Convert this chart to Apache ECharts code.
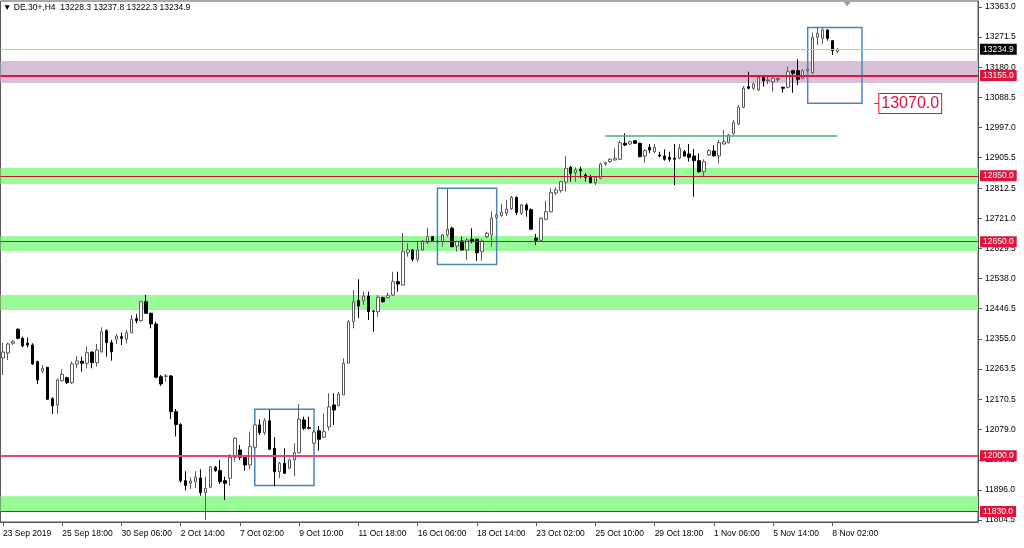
<!DOCTYPE html>
<html><head><meta charset="utf-8">
<script src="https://cdn.jsdelivr.net/npm/echarts@6/dist/echarts.min.js"></script>
<style>html,body{margin:0;padding:0;background:#fff}#c{width:1024px;height:548px}</style>
</head><body><div id="c"></div>
<script>
// ---------- data ----------
const tradingDays = ['23 Sep','24 Sep','25 Sep','26 Sep','27 Sep','30 Sep','1 Oct','2 Oct','3 Oct','4 Oct',
  '7 Oct','8 Oct','9 Oct','10 Oct','11 Oct','14 Oct','15 Oct','16 Oct','17 Oct','18 Oct',
  '21 Oct','22 Oct','23 Oct','24 Oct','25 Oct','28 Oct','29 Oct','30 Oct','31 Oct','1 Nov',
  '4 Nov','5 Nov','6 Nov','7 Nov','8 Nov'];
const barHours = ['02:00','06:00','10:00','14:00','18:00'];
const firstBarHourIndex = 2;
const emptySlotsRight = 28;

const opens = [12296.7,12311.9,12341.4,12383.9,12356.5,12341.4,12336.2,12285.5,12257.2,12268.4,
12173.1,12153.9,12227.7,12236.8,12221.6,12278.5,12286.7,12280.6,12314.9,12282.4,
12315.8,12379.6,12343.2,12353.5,12361.4,12353.5,12373.6,12416.1,12410.0,12467.7,
12432.5,12400.0,12239.9,12241.0,12242.0,12133.6,12094.7,11923.9,11916.1,11920.9,
11932.1,11887.5,11903.9,11964.6,11954.3,11923.9,11931.2,11995.0,12017.2,11995.0,
11971.6,12025.3,12093.2,12069.8,12106.2,12022.4,11951.3,11976.7,11961.6,11986.8,
12009.0,12108.3,12085.0,12037.6,12075.8,12055.8,12087.1,12153.9,12151.8,12184.3,
12280.6,12407.0,12470.8,12469.9,12485.1,12439.4,12437.3,12479.9,12479.9,12488.1,
12528.5,12518.5,12616.6,12624.8,12596.6,12624.8,12647.0,12665.2,12650.6,12650.0,
12670.4,12690.7,12636.9,12652.1,12624.8,12657.3,12657.3,12619.6,12665.2,12670.4,
12724.2,12729.6,12736.3,12750.0,12784.3,12736.3,12761.5,12747.2,12660.3,12654.3,
12718.1,12741.2,12798.0,12805.0,12831.4,12876.0,12859.6,12870.0,12852.7,12847.5,
12829.3,12842.6,12886.1,12893.1,12898.2,12900.3,12949.0,12946.8,12956.9,12949.0,
12910.4,12936.8,12923.4,12913.4,12910.4,12906.4,12903.4,12903.4,12923.4,12916.7,
12910.4,12896.1,12862.7,12913.4,12925.6,12910.4,12946.8,12950.8,12979.3,13007.6,
13058.3,13120.9,13116.0,13110.9,13149.5,13139.1,13136.1,13143.4,13119.1,13119.1,
13169.5,13169.5,13146.4,13169.5,13163.4,13271.0,13268.0,13293.2,13260.6,13228.3];
const highs = [12342.3,12343.2,12351.4,12386.9,12361.4,12358.9,12341.4,12288.5,12275.4,12269.3,
12177.3,12235.0,12262.4,12239.9,12285.5,12302.8,12300.7,12331.1,12315.8,12339.2,
12389.9,12383.9,12351.4,12369.6,12373.6,12381.8,12427.3,12430.4,12470.8,12488.1,
12434.3,12407.0,12245.1,12248.1,12245.1,12141.8,12098.3,11952.8,11933.6,11952.8,
11958.5,11936.1,11968.6,11968.6,11986.8,11936.1,12005.0,12055.8,12032.4,11998.9,
12072.8,12096.2,12110.5,12113.5,12138.7,12055.8,11981.6,12022.4,11992.0,12037.6,
12157.0,12118.4,12118.4,12078.0,12090.1,12128.7,12189.5,12189.5,12193.4,12295.8,
12412.1,12503.3,12535.8,12498.1,12498.1,12442.5,12488.1,12483.0,12495.1,12558.9,
12558.9,12676.4,12645.2,12627.9,12650.0,12655.2,12692.5,12667.3,12653.7,12673.4,
12812.2,12695.6,12653.1,12665.2,12660.3,12690.7,12660.3,12657.3,12680.4,12741.2,
12736.3,12764.5,12776.7,12788.8,12787.9,12764.5,12766.6,12751.5,12673.4,12724.2,
12773.7,12812.2,12815.3,12835.3,12910.4,12880.0,12876.0,12877.9,12857.8,12852.7,
12849.6,12890.0,12893.1,12903.4,12933.8,12956.9,12979.3,12956.9,12959.0,12950.8,
12930.7,12946.8,12946.8,12923.4,12930.7,12923.4,12946.8,12946.8,12928.6,12946.8,
12931.7,12918.6,12900.3,12930.7,12943.8,12959.0,12989.4,12977.2,13019.7,13065.3,
13123.0,13166.5,13133.7,13156.5,13156.5,13151.3,13156.5,13149.5,13120.9,13181.7,
13171.7,13204.1,13173.8,13176.2,13285.0,13301.4,13301.4,13295.3,13262.8,13237.8];
const lows = [12245.0,12290.6,12336.2,12353.5,12329.1,12329.1,12275.4,12217.7,12250.2,12169.1,
12126.6,12126.6,12224.7,12217.7,12217.7,12265.4,12255.1,12265.4,12265.4,12270.3,
12312.8,12300.7,12288.5,12339.2,12336.2,12341.4,12371.7,12402.1,12407.0,12430.4,
12386.9,12235.0,12211.6,12224.7,12111.3,12058.2,11917.8,11894.2,11898.7,11901.7,
11878.4,11804.5,11900.9,11951.3,11913.9,11865.3,11907.9,11981.6,11986.8,11954.3,
11958.5,12017.2,12062.8,12062.8,12017.2,11907.9,11931.2,11944.3,11958.5,11938.2,
12007.2,12078.0,12080.1,12035.5,12015.1,12052.7,12076.5,12093.2,12150.9,12184.3,
12280.6,12386.9,12417.3,12457.7,12412.1,12376.6,12422.2,12464.7,12478.0,12485.1,
12498.1,12515.4,12604.4,12589.3,12589.3,12622.7,12643.0,12650.6,12647.6,12634.8,
12665.2,12633.0,12619.6,12622.7,12594.4,12645.2,12592.3,12592.3,12660.3,12634.8,
12721.1,12725.9,12728.1,12746.4,12731.1,12731.1,12725.9,12685.6,12640.0,12650.0,
12715.0,12738.1,12791.9,12798.9,12801.9,12832.3,12832.3,12842.6,12832.3,12827.4,
12822.3,12839.6,12880.0,12890.0,12896.1,12898.2,12940.7,12943.8,12946.8,12906.4,
12890.0,12918.6,12918.6,12906.4,12896.1,12893.1,12822.3,12900.3,12908.3,12893.1,
12786.7,12859.6,12845.7,12910.4,12907.4,12888.2,12945.3,12948.3,12974.2,13004.6,
13055.3,13113.0,13110.9,13108.8,13120.9,13128.2,13105.7,13135.2,13102.7,13116.0,
13102.7,13126.1,13144.3,13167.1,13159.5,13247.6,13250.6,13260.6,13217.2,13222.3];
const closes = [12314.9,12339.2,12346.2,12356.5,12333.2,12336.2,12278.5,12229.9,12265.4,12171.2,
12151.8,12229.9,12247.2,12221.6,12278.5,12287.6,12280.6,12312.8,12282.4,12321.0,
12376.6,12343.2,12315.8,12363.5,12356.5,12373.6,12414.3,12410.0,12467.7,12432.5,
12400.0,12238.1,12217.7,12242.0,12133.6,12094.7,11923.9,11909.4,11923.0,11934.3,
11887.5,11900.9,11966.5,11954.3,11920.9,11916.1,11995.0,12052.7,11995.0,11971.6,
12027.2,12093.2,12069.8,12106.2,12019.3,11951.3,11976.7,11946.4,11986.8,12009.0,
12110.5,12083.1,12083.0,12071.9,12049.7,12072.8,12148.0,12138.7,12187.3,12280.6,
12407.0,12467.7,12454.7,12485.1,12437.3,12437.9,12481.1,12467.7,12487.2,12528.5,
12521.5,12619.6,12624.8,12596.6,12624.8,12652.1,12665.2,12653.1,12650.0,12670.4,
12687.7,12634.8,12650.0,12624.8,12655.2,12650.0,12616.6,12652.1,12675.5,12721.1,
12731.1,12738.7,12749.4,12784.3,12738.7,12761.5,12746.4,12688.0,12654.3,12721.1,
12741.2,12798.9,12807.1,12832.3,12873.0,12857.8,12867.8,12865.7,12845.7,12829.3,
12845.7,12886.1,12890.0,12900.3,12903.4,12950.8,12943.8,12953.8,12949.0,12908.3,
12926.5,12928.6,12936.8,12910.4,12900.3,12900.3,12900.3,12933.8,12910.4,12906.4,
12896.1,12862.7,12893.1,12926.5,12911.3,12950.8,12953.8,12974.2,13011.5,13058.3,
13116.0,13116.0,13129.1,13149.5,13139.1,13141.3,13146.4,13145.8,13116.0,13166.5,
13161.6,13143.4,13169.5,13173.8,13271.0,13283.1,13293.2,13268.0,13230.3,13234.9];

const xTickLabels = ['23 Sep 2019','25 Sep 18:00','30 Sep 06:00','2 Oct 14:00','7 Oct 02:00','9 Oct 10:00',
  '11 Oct 18:00','16 Oct 06:00','18 Oct 14:00','23 Oct 02:00','25 Oct 10:00','29 Oct 18:00',
  '1 Nov 06:00','5 Nov 14:00','8 Nov 02:00'];
const xTickEvery = 12;
const yTickValues = [13363.0,13271.5,13180.0,13088.5,12997.0,12905.5,12812.5,12721.0,12629.5,12538.0,
  12446.5,12355.0,12263.5,12170.5,12079.0,11987.5,11896.0,11804.5];
const yMin = 11798.4, yMax = 13381.2;

const topLevel = [13155.0];
const roundLevel = [12000.0];
const minorLevels = [12850.0, 12650.0, 11830.0];
const currentPrice = 13234.9;

const greenBandTops = [12874.0, 12667.0, 12488.0, 11877.0];
const greenBandBottoms = [12825.0, 12622.0, 12442.5, 11829.0];
const purpleBandTop = 13199.0, purpleBandBottom = 13132.0;

const boxStartBar = [51, 88, 163];
const boxEndBar = [63, 100, 174];
const boxHigh = [12141.0, 12812.0, 13301.0];
const boxLow = [11909.0, 12581.0, 13070.5];

const trendFromBar = 122, trendToBar = 169, trendPrice = 12972.6;
const priceTagBar = 177, priceTagValue = 13070.0;
const shiftMarkerBar = 171;

// ---------- build ----------
const categories = [];
for (let i = 0; i < opens.length; i++) {
  const k = i + firstBarHourIndex;
  categories.push(tradingDays[Math.floor(k / 5)] + ' ' + barHours[k % 5]);
}
for (let i = 0; i < emptySlotsRight; i++) categories.push('');
const candleData = opens.map((o, i) => [o, closes[i], lows[i], highs[i]]);

const FONT = 'Liberation Sans';
const tagLabel = (bg) => ({
  show: true, position: 'end', distance: 2, formatter: (p) => p.value.toFixed(1),
  color: '#fff', backgroundColor: bg, padding: [1, 3, 0, 3],
  fontFamily: FONT, fontSize: 8.5, lineHeight: 10
});

function levelSeries(name, prices, color, width, bg, z) {
  return { name, type: 'line', data: [], z, silent: true,
    markLine: { silent: true, symbol: ['none', 'none'], precision: 1,
      lineStyle: { color, width, type: 'solid', opacity: 1 },
      emphasis: { disabled: true },
      label: tagLabel(bg),
      data: prices.map((p) => ({ yAxis: p })) } };
}

const bandAreas = greenBandTops.map((t, i) => [
  { yAxis: t, itemStyle: { color: '#98fb98' } }, { yAxis: greenBandBottoms[i] }
]);
bandAreas.unshift([{ yAxis: purpleBandTop, itemStyle: { color: '#d8bfd8' } }, { yAxis: purpleBandBottom }]);

const boxAreas = boxStartBar.map((s, i) => [
  { coord: [s, boxHigh[i]] }, { coord: [boxEndBar[i], boxLow[i]] }
]);

const chart = echarts.init(document.getElementById('c'), null, { renderer: 'canvas' });
chart.setOption({
  animation: false,
  backgroundColor: '#fff',
  title: {
    text: '\u25BC DE.30+,H4  13228.3 13237.8 13222.3 13234.9',
    left: 3, top: 3, padding: 0,
    textStyle: { fontFamily: FONT, fontSize: 8.5, fontWeight: 'normal', color: '#000' }
  },
  grid: { left: 0.5, right: 46, top: 1, bottom: 26, show: true, borderColor: '#555', borderWidth: 1, backgroundColor: 'transparent' },
  xAxis: {
    type: 'category', data: categories, boundaryGap: true,
    axisLine: { show: true, lineStyle: { color: '#555', width: 1 } },
    axisTick: { show: true, alignWithLabel: true, length: 4, lineStyle: { color: '#555' },
      interval: (idx) => idx % xTickEvery === 0 && idx < opens.length },
    axisLabel: {
      interval: (idx) => idx % xTickEvery === 0 && idx < opens.length,
      formatter: (v, idx) => xTickLabels[Math.round(idx / xTickEvery)] || '',
      align: 'left', margin: 7, color: '#000', fontFamily: FONT, fontSize: 8.5
    },
    splitLine: { show: false }
  },
  yAxis: {
    type: 'value', position: 'right', min: yMin, max: yMax, scale: true,
    axisLine: { show: true, lineStyle: { color: '#555', width: 1 } },
    axisTick: { show: true, length: 4, customValues: yTickValues, lineStyle: { color: '#555' } },
    axisLabel: { customValues: yTickValues, formatter: (v) => v.toFixed(1), margin: 7,
      color: '#000', fontFamily: FONT, fontSize: 8.5 },
    splitLine: { show: false }
  },
  series: [
    { name: 'bands', type: 'line', data: [], z: 1, silent: true,
      markArea: { silent: true, data: bandAreas } },
    levelSeries('current', [currentPrice], '#c4c4c4', 1, '#000', 1.2),
    levelSeries('minor', minorLevels, '#c8102e', 1, '#dc143c', 1.3),
    levelSeries('round', roundLevel, '#e3486c', 2, '#dc143c', 1.35),
    levelSeries('top', topLevel, '#e0143c', 2, '#dc143c', 1.4),
    { name: 'trend', type: 'line', data: [], z: 1.6, silent: true,
      markLine: { silent: true, symbol: ['none', 'none'], label: { show: false },
        lineStyle: { color: '#3cb371', width: 1.5, type: 'solid', opacity: 1 },
        emphasis: { disabled: true },
        data: [[{ coord: [trendFromBar, trendPrice] }, { coord: [trendToBar, trendPrice] }]] } },
    { name: 'DE.30+', type: 'candlestick', data: candleData, z: 2, barWidth: 3,
      itemStyle: { color: '#ffffff', color0: '#000000', borderColor: '#5a5a5a', borderColor0: '#000000', borderWidth: 1 } },
    { name: 'objects', type: 'line', data: [], z: 3, silent: true,
      markArea: { silent: true, itemStyle: { color: 'rgba(0,0,0,0)', borderColor: '#4a84c0', borderWidth: 1.5 }, data: boxAreas },
      markPoint: { silent: true, data: [
        { coord: [priceTagBar, priceTagValue], symbol: 'rect', symbolSize: [5, 1], itemStyle: { color: '#dc143c' },
          label: { show: true, position: 'right', distance: 0, formatter: priceTagValue.toFixed(1), color: '#dc143c',
            fontFamily: FONT, fontSize: 16, backgroundColor: '#fff', borderColor: '#dc143c', borderWidth: 1, padding: [2, 2, 1, 2] } },
        { coord: [shiftMarkerBar, yMax], symbol: 'triangle', symbolRotate: 180, symbolSize: [8, 5], symbolOffset: [0, 3],
          itemStyle: { color: '#a0a0a0' }, label: { show: false } }
      ] } }
  ]
});
</script></body></html>
